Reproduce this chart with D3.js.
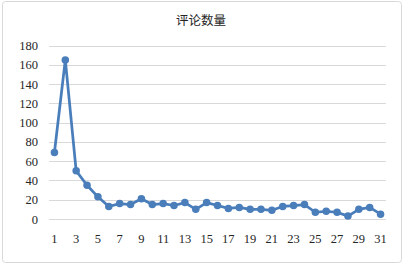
<!DOCTYPE html>
<html>
<head>
<meta charset="utf-8">
<script src="https://cdn.jsdelivr.net/npm/d3@7"></script>
<style>
html,body{margin:0;padding:0;background:#fff;}
svg{display:block;}
</style>
</head>
<body>
<svg id="chart" width="406" height="265"></svg>
<script>
const title = "评论数量";
const days = d3.range(1, 32);
const counts = [69,165,50,35,23,13,16,15,21,15,16,14,17,10,17,14,11,12,10,10,9,13,14,15,7,8,7,3,10,12,5];
const yTicks = [0,20,40,60,80,100,120,140,160,180];
const xLabels = days.filter(d => d % 2 === 1);

const svg = d3.select("#chart");
const FONT = "'Liberation Serif', serif";

svg.append("rect").attr("x", 2.5).attr("y", 1.5).attr("width", 399).attr("height", 261)
  .attr("rx", 3).attr("fill", "#fff").attr("stroke", "#d9d9d9").attr("stroke-width", 1);

const x = d3.scaleBand().domain(days).range([49, 386]);
const y = d3.scaleLinear().domain([0, 180]).range([219, 45.5]);

svg.append("text").attr("x", 201).attr("y", 24.5).attr("text-anchor", "middle")
  .style("font-family", "'Noto Sans CJK SC', sans-serif").style("font-size", "12.5px")
  .style("fill", "#262626").text(title);

const g = svg.append("g");
g.selectAll("line.grid").data(yTicks).enter().append("line")
  .attr("x1", 49).attr("x2", 386)
  .attr("y1", d => Math.round(y(d)) + 0.5).attr("y2", d => Math.round(y(d)) + 0.5)
  .attr("stroke", "#d9d9d9").attr("stroke-width", 1);

const yAxis = d3.axisLeft(y).tickValues(yTicks).tickSize(0).tickPadding(0);
const ya = svg.append("g").attr("transform", "translate(38,0)").call(yAxis);
ya.attr("font-family", FONT).attr("font-size", 12.5);
ya.select(".domain").remove();
ya.selectAll(".tick text").style("font-family", FONT).style("font-size", "12.5px").attr("fill", "#262626");

const xAxis = d3.axisBottom(x).tickValues(xLabels).tickSize(0).tickPadding(0);
const xa = svg.append("g").attr("transform", "translate(0,234)").call(xAxis);
xa.attr("font-family", FONT).attr("font-size", 12.5);
xa.select(".domain").remove();
xa.selectAll(".tick text").style("font-family", FONT).style("font-size", "12.5px").attr("fill", "#262626");

const line = d3.line().x((d, i) => x(days[i]) + x.bandwidth() / 2).y(d => y(d));
svg.append("path").datum(counts).attr("d", line).attr("fill", "none")
  .attr("stroke", "#4a7ebb").attr("stroke-width", 2.75).attr("stroke-linejoin", "round");

svg.selectAll("circle.pt").data(counts).enter().append("circle")
  .attr("cx", (d, i) => x(days[i]) + x.bandwidth() / 2).attr("cy", d => y(d))
  .attr("r", 3.75).attr("fill", "#4a7ebb");
</script>
</body>
</html>
